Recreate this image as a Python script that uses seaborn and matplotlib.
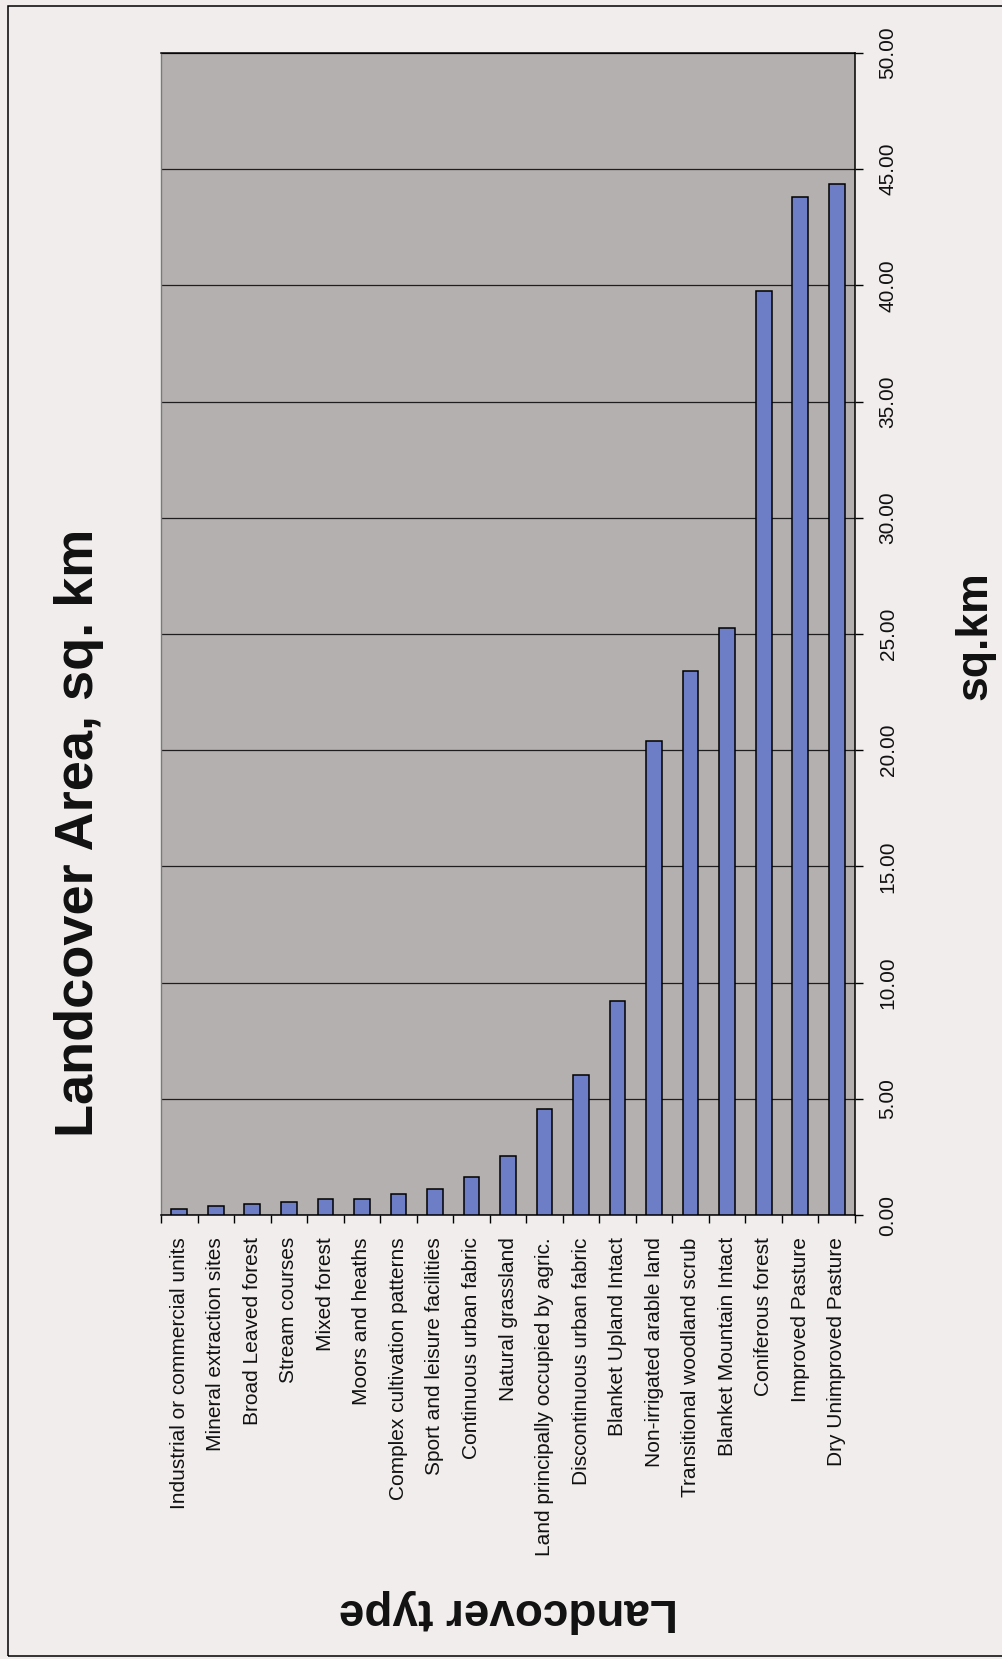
import matplotlib.pyplot as plt
import seaborn as sns
from matplotlib.patches import Rectangle
from matplotlib.ticker import FixedLocator, FormatStrFormatter

# landcover classes, smallest to largest (left to right in the chart)
categories = [
    "Industrial or commercial units",
    "Mineral extraction sites",
    "Broad Leaved forest",
    "Stream courses",
    "Mixed forest",
    "Moors and heaths",
    "Complex cultivation patterns",
    "Sport and leisure facilities",
    "Continuous urban fabric",
    "Natural grassland",
    "Land principally occupied by agric.",
    "Discontinuous urban fabric",
    "Blanket Upland Intact",
    "Non-irrigated arable land",
    "Transitional woodland scrub",
    "Blanket Mountain Intact",
    "Coniferous forest",
    "Improved Pasture",
    "Dry Unimproved Pasture",
]
areas = [0.25, 0.40, 0.47, 0.55, 0.69, 0.69, 0.90, 1.12, 1.64, 2.54, 4.55,
         6.03, 9.21, 20.39, 23.39, 25.25, 39.74, 43.82, 44.36]

value_ticks = [0, 5, 10, 15, 20, 25, 30, 35, 40, 45, 50]

sns.set_theme(style="white")
plt.rcParams['font.family'] = ['Liberation Sans', 'DejaVu Sans']

W, H = 1002, 1659
fig = plt.figure(figsize=(W / 100, H / 100), dpi=100, facecolor="#f1eded")

# plot area in pixel terms
left, right, top, bottom = 161, 855, 53, 1215
ax = fig.add_axes([left / W, 1 - bottom / H, (right - left) / W, (bottom - top) / H])
ax.set_facecolor("#b4b0af")

sns.barplot(
    x=categories,
    y=areas,
    color="#6d7dc6",
    saturation=1,
    edgecolor="black",
    linewidth=1.1,
    width=0.43,
    ax=ax,
    zorder=3,
)

ax.set_xlim(-0.5, len(categories) - 0.5)
ax.set_ylim(0, 50)

# value axis on the right, rotated labels
ax.yaxis.tick_right()
ax.yaxis.set_major_locator(FixedLocator(value_ticks))
ax.yaxis.set_major_formatter(FormatStrFormatter("%.2f"))
ax.tick_params(axis="y", which="major", direction="out", length=6, width=1,
               color="black", pad=11, labelsize=15, labelcolor="#111111",
               labelrotation=90)
for t in ax.get_yticklabels():
    t.set_va("center")

ax.grid(axis="y", color="#1e1e1e", linewidth=0.9, zorder=1)
ax.set_axisbelow(True)

# category axis: labels under each bar, ticks between bars
ax.set_xticks(range(len(categories)))
ax.set_xticklabels(categories, rotation=90, fontsize=15, color="#111111")
ax.xaxis.set_minor_locator(FixedLocator([i + 0.5 for i in range(-1, len(categories))]))
ax.tick_params(axis="x", which="major", length=0, pad=16)
ax.tick_params(axis="x", which="minor", bottom=True, direction="out", length=6,
               width=1, color="black")
for t in ax.get_xticklabels():
    t.set_va("top")
    t.set_ha("center")

ax.set_xlabel("")
ax.set_ylabel("")

for side in ["bottom", "right", "top"]:
    ax.spines[side].set_color("black")
    ax.spines[side].set_linewidth(1.1)
ax.spines["left"].set_color("#7a7a7a")
ax.spines["left"].set_linewidth(1)

# titles, rotated like the source page
fig.text(79 / W, 1 - 833 / H, "Landcover Area, sq. km", rotation=90,
         fontsize=39, fontweight="bold", ha="center", va="center", color="#111111")
fig.text(975 / W, 1 - 636 / H, "sq.km", rotation=90,
         fontsize=32, fontweight="bold", ha="center", va="center", color="#111111")
fig.text(508 / W, 1 - 1611 / H, "Landcover type", rotation=180,
         fontsize=33, fontweight="bold", ha="center", va="center", color="#111111")

# page border
fig.patches.append(Rectangle((8 / W, 3 / H), 1.0, 1 - 9 / H, transform=fig.transFigure,
                             fill=False, edgecolor="black", linewidth=1.1))

fig.savefig("out.png", dpi=100, facecolor=fig.get_facecolor())
